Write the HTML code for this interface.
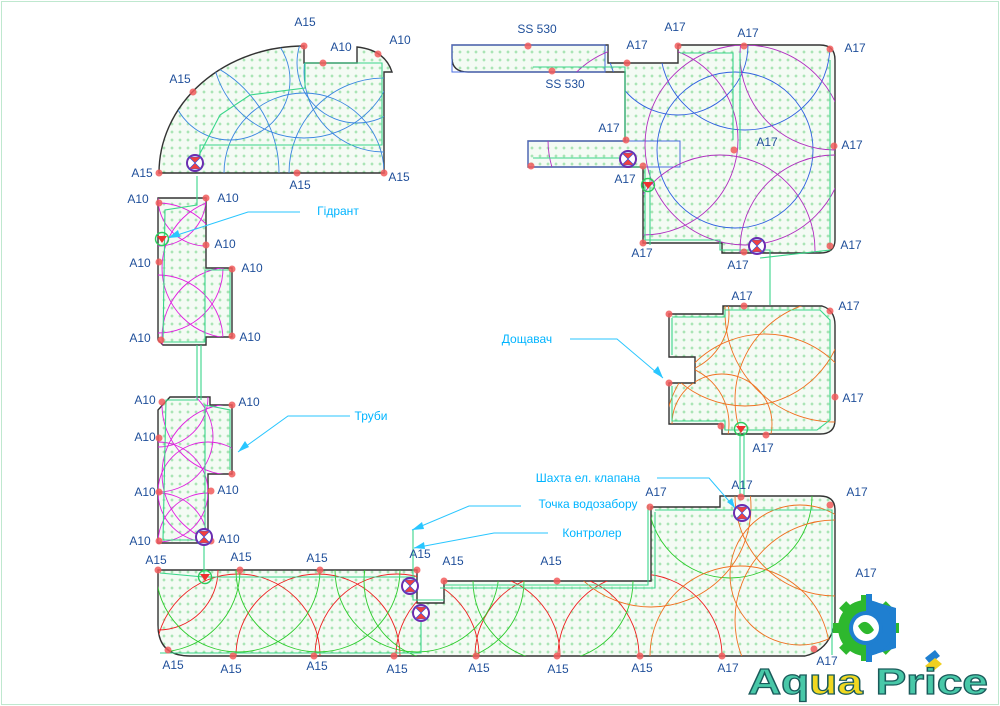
<!DOCTYPE html>
<html><head><meta charset="utf-8"><style>
html,body{margin:0;background:#fff;overflow:hidden;width:1000px;height:706px}
svg{display:block}
text{font-family:"Liberation Sans",sans-serif;font-size:12px;fill:#1f4f9a}
.c{fill:#00b4ff}
</style></head><body>
<svg width="1000" height="706" viewBox="0 0 1000 706" xmlns="http://www.w3.org/2000/svg">
<defs>
<pattern id="p" width="8" height="8" patternUnits="userSpaceOnUse">
<rect width="8" height="8" fill="#f4fbf4"/>
<path d="M4 2.5V5.5M2.5 4H5.5" stroke="#7fd88f" stroke-width="0.8"/>
</pattern>
<clipPath id="r1"><path d="M159 173 L384 173 L384 72 L392 72 Q385 50 357 47 L357 63 L304 63 L304 46 A145 127 0 0 0 159 173 Z"/></clipPath>
<clipPath id="r2"><path d="M158 198 L206 198 L206 268 L232 268 L232 337 L206 337 L206 345 L163 345 L158 340 Z"/></clipPath>
<clipPath id="r3"><path d="M170 397 L210 397 L210 405 L232 405 L232 474 L208 474 L208 543 L158 543 L158 410 Z"/></clipPath>
<clipPath id="r4"><path d="M452 45 L608 45 L608 63 L678 63 L678 45 L820 45 Q835 45 835 60 L835 240 Q835 253 820 253 L722 253 L722 243 L643 243 L643 167 L528 167 L528 141 L625 141 L625 72 L468 72 Q452 72 452 58 Z"/></clipPath>
<clipPath id="r5"><path d="M669 314 L723 314 L723 306 L822 306 Q835 310 835 325 L835 420 Q835 434 820 434 L722 434 L722 424 L669 424 L669 383 L695 383 L695 357 L669 357 Z"/></clipPath>
<clipPath id="r6"><path d="M158 570 L417 570 L417 603 L444 603 L444 581 L651 581 L651 507 L720 507 L720 496 L820 496 Q835 496 835 510 L835 622 Q830 650 805 656 L190 656 Q158 656 158 625 Z"/></clipPath>
</defs>
<rect x="1.5" y="1.5" width="997" height="703" fill="none" stroke="#bfe8cf"/>

<g fill="url(#p)" stroke="#333" stroke-width="1.4">
<path d="M159 173 L384 173 L384 72 L392 72 Q385 50 357 47 L357 63 L304 63 L304 46 A145 127 0 0 0 159 173 Z"/>
<path d="M158 198 L206 198 L206 268 L232 268 L232 337 L206 337 L206 345 L163 345 L158 340 Z"/>
<path d="M170 397 L210 397 L210 405 L232 405 L232 474 L208 474 L208 543 L158 543 L158 410 Z"/>
<path d="M452 45 L608 45 L608 63 L678 63 L678 45 L820 45 Q835 45 835 60 L835 240 Q835 253 820 253 L722 253 L722 243 L643 243 L643 167 L528 167 L528 141 L625 141 L625 72 L468 72 Q452 72 452 58 Z"/>
<path d="M669 314 L723 314 L723 306 L822 306 Q835 310 835 325 L835 420 Q835 434 820 434 L722 434 L722 424 L669 424 L669 383 L695 383 L695 357 L669 357 Z"/>
<path d="M158 570 L417 570 L417 603 L444 603 L444 581 L651 581 L651 507 L720 507 L720 496 L820 496 Q835 496 835 510 L835 622 Q830 650 805 656 L190 656 Q158 656 158 625 Z"/>
</g>
<g fill="none" stroke="#4a6ee0" stroke-width="1">
<rect x="452" y="45" width="153" height="27"/>
<rect x="528" y="141" width="152" height="26"/>
</g>

<g fill="none" stroke-width="0.9">
<g clip-path="url(#r1)" stroke="#3a86e0">
<circle cx="159" cy="173" r="120"/><circle cx="304" cy="46" r="92"/><circle cx="384" cy="173" r="95"/>
<circle cx="304" cy="173" r="80"/><circle cx="357" cy="63" r="60"/><circle cx="384" cy="72" r="80"/><circle cx="230" cy="80" r="60"/>
</g>
<g clip-path="url(#r2)" stroke="#e020e0">
<circle cx="158" cy="198" r="48"/><circle cx="206" cy="198" r="48"/><circle cx="158" cy="268" r="65"/><circle cx="232" cy="268" r="70"/><circle cx="158" cy="340" r="65"/><circle cx="232" cy="337" r="70"/>
</g>
<g clip-path="url(#r3)" stroke="#e020e0">
<circle cx="158" cy="397" r="50"/><circle cx="232" cy="405" r="70"/><circle cx="158" cy="437" r="55"/><circle cx="232" cy="474" r="70"/><circle cx="158" cy="492" r="50"/><circle cx="208" cy="492" r="50"/><circle cx="158" cy="543" r="50"/><circle cx="208" cy="543" r="50"/>
</g>
<g clip-path="url(#r4)">
<circle cx="735" cy="150" r="78" stroke="#3060e0"/>
<circle cx="678" cy="45" r="70" stroke="#3060e0"/><circle cx="745" cy="45" r="85" stroke="#3060e0"/>
<g stroke="#b030c0"><circle cx="835" cy="55" r="95"/><circle cx="835" cy="250" r="95"/><circle cx="720" cy="250" r="95"/><circle cx="643" cy="140" r="95"/><circle cx="745" cy="145" r="100"/></g>
</g>
<g clip-path="url(#r5)" stroke="#f07020">
<circle cx="669" cy="314" r="60"/><circle cx="745" cy="306" r="100"/><circle cx="835" cy="312" r="110"/><circle cx="835" cy="400" r="100"/><circle cx="669" cy="424" r="60"/><circle cx="765" cy="434" r="100"/><circle cx="722" cy="424" r="50"/>
</g>
<g clip-path="url(#r6)">
<g stroke="#ee2020"><circle cx="238" cy="656" r="82"/><circle cx="318" cy="656" r="82"/><circle cx="397" cy="656" r="82"/><circle cx="478" cy="656" r="82"/><circle cx="557" cy="656" r="82"/><circle cx="640" cy="656" r="82"/><circle cx="158" cy="570" r="60"/></g>
<g stroke="#2ccc2c"><circle cx="158" cy="570" r="82"/><circle cx="238" cy="570" r="82"/><circle cx="318" cy="570" r="82"/><circle cx="417" cy="570" r="82"/><circle cx="553" cy="581" r="80"/><circle cx="444" cy="581" r="80"/><circle cx="730" cy="496" r="82"/></g>
<g stroke="#f07020"><circle cx="835" cy="496" r="100"/><circle cx="651" cy="507" r="100"/><circle cx="740" cy="656" r="90"/><circle cx="835" cy="620" r="100"/><circle cx="800" cy="575" r="70"/></g>
</g>
</g>

<g fill="none" stroke="#3ad68a" stroke-width="1.1">
<path d="M200 163 L200 145 L382 145 L382 63 L305 63 L305 88 L250 95 L220 115 L195 163"/>
<path d="M197 176 L197 205 L165 210 L163 342 L205 342 L205 270 L230 270 L230 335"/>
<path d="M197 345 L197 400 M201 345 L201 400"/>
<path d="M198 400 L166 400 L163 540 L205 540 L205 405 L230 410 L230 470"/>
<path d="M204 545 L204 577 L160 573 M204 577 L415 577 M413 530 L413 600 L444 600"/>
<path d="M445 585 L648 585 L648 505 M655 510 L832 510 L832 655 M440 588 L655 588 L655 512"/>
<path d="M421 620 L421 653 L160 653"/>
<path d="M533 67 L625 67 L625 138 M533 158 L628 158 M631 160 L631 167 L645 167 L645 240 L720 240 L720 250 L770 250 L770 305 M650 170 L650 245"/>
<path d="M680 53 L733 53 L733 140 M740 53 L740 150 M760 258 L830 250 L830 60"/>
<path d="M672 317 L725 317 L725 310 L820 310 L830 320 L830 420 L817 430 L725 430 L725 421 L672 421 L672 386 M672 355 L672 318"/>
<path d="M740 432 L740 495 M744 432 L744 495"/>
</g>

<g stroke="#29c6ff" stroke-width="1" fill="none">
<path d="M300 212 L248 212 L168 238"/>
<path d="M350 416 L288 416 L238 452"/>
<path d="M570 339 L617 339 L663 378"/>
<path d="M657 478 L709 478 L735 508"/>
<path d="M521 506 L469 506 L412 530"/>
<path d="M548 533 L494 533 L414 548"/>
</g>
<g fill="#29c6ff">
<path d="M168 238 L178 230 L180 237 Z"/><path d="M238 452 L245 441 L249 447 Z"/><path d="M663 378 L653 372 L658 366 Z"/><path d="M735 508 L727 502 L732 498 Z"/><path d="M412 530 L422 522 L424 529 Z"/><path d="M414 548 L424 542 L425 549 Z"/>
</g>

<g fill="#f25c5c" opacity="0.85">
<circle cx="304" cy="46" r="3.5"/><circle cx="323" cy="63" r="3.5"/><circle cx="378" cy="54" r="3.5"/><circle cx="193" cy="92" r="3.5"/><circle cx="159" cy="173" r="3.5"/><circle cx="297" cy="173" r="3.5"/><circle cx="384" cy="173" r="3.5"/>
<circle cx="159" cy="203" r="3.5"/><circle cx="206" cy="198" r="3.5"/><circle cx="206" cy="245" r="3.5"/><circle cx="159" cy="262" r="3.5"/><circle cx="232" cy="269" r="3.5"/><circle cx="161" cy="340" r="3.5"/><circle cx="232" cy="336" r="3.5"/>
<circle cx="162" cy="402" r="3.5"/><circle cx="232" cy="405" r="3.5"/><circle cx="159" cy="438" r="3.5"/><circle cx="159" cy="492" r="3.5"/><circle cx="211" cy="491" r="3.5"/><circle cx="159" cy="541" r="3.5"/><circle cx="211" cy="541" r="3.5"/><circle cx="232" cy="474" r="3.5"/>
<circle cx="158" cy="570" r="3.5"/><circle cx="240" cy="570" r="3.5"/><circle cx="320" cy="570" r="3.5"/><circle cx="417" cy="570" r="3.5"/><circle cx="444" cy="581" r="3.5"/><circle cx="557" cy="581" r="3.5"/><circle cx="650" cy="507" r="3.5"/><circle cx="741" cy="497" r="3.5"/><circle cx="830" cy="505" r="3.5"/>
<circle cx="168" cy="650" r="3.5"/><circle cx="233" cy="656" r="3.5"/><circle cx="314" cy="656" r="3.5"/><circle cx="394" cy="656" r="3.5"/><circle cx="476" cy="656" r="3.5"/><circle cx="557" cy="656" r="3.5"/><circle cx="640" cy="656" r="3.5"/><circle cx="722" cy="656" r="3.5"/><circle cx="814" cy="649" r="3.5"/>
<circle cx="528" cy="46" r="3.5"/><circle cx="552" cy="71" r="3.5"/><circle cx="627" cy="63" r="3.5"/><circle cx="678" cy="46" r="3.5"/><circle cx="744" cy="46" r="3.5"/><circle cx="830" cy="49" r="3.5"/><circle cx="734" cy="150" r="3.5"/><circle cx="834" cy="146" r="3.5"/><circle cx="626" cy="140" r="3.5"/><circle cx="531" cy="166" r="3.5"/><circle cx="643" cy="166" r="3.5"/><circle cx="643" cy="243" r="3.5"/><circle cx="744" cy="252" r="3.5"/><circle cx="830" cy="246" r="3.5"/>
<circle cx="669" cy="314" r="3.5"/><circle cx="744" cy="306" r="3.5"/><circle cx="830" cy="311" r="3.5"/><circle cx="835" cy="397" r="3.5"/><circle cx="669" cy="383" r="3.5"/><circle cx="721" cy="426" r="3.5"/><circle cx="766" cy="435" r="3.5"/>
</g>

<g stroke="#6a2db0" stroke-width="2" fill="#fff">
<circle cx="195" cy="163" r="8"/><circle cx="628" cy="159" r="8"/><circle cx="757" cy="246" r="8"/><circle cx="204" cy="537" r="8"/><circle cx="410" cy="586" r="8"/><circle cx="421" cy="613" r="8"/><circle cx="742" cy="513" r="8"/>
</g>
<g fill="#f04040" stroke="#3050e0" stroke-width="0.6">
<path d="M189 157 L201 157 L189 169 L201 169 Z"/><path d="M622 153 L634 153 L622 165 L634 165 Z"/><path d="M751 240 L763 240 L751 252 L763 252 Z"/><path d="M198 531 L210 531 L198 543 L210 543 Z"/><path d="M404 580 L416 580 L404 592 L416 592 Z"/><path d="M415 607 L427 607 L415 619 L427 619 Z"/><path d="M736 507 L748 507 L736 519 L748 519 Z"/>
</g>
<g stroke="#2ccc5c" stroke-width="1.4" fill="none">
<circle cx="162" cy="239" r="6.5"/><circle cx="648" cy="185" r="6.5"/><circle cx="741" cy="429" r="6.5"/><circle cx="205" cy="577" r="6.5"/>
</g>
<g fill="#ee3030">
<path d="M157 236 L167 236 L162 243 Z"/><path d="M643 182 L653 182 L648 189 Z"/><path d="M736 426 L746 426 L741 433 Z"/><path d="M200 574 L210 574 L205 581 Z"/>
</g>

<g text-anchor="middle">
<text x="305" y="26">A15</text><text x="341" y="51">A10</text><text x="400" y="44">A10</text><text x="180" y="83">A15</text><text x="142" y="177">A15</text><text x="300" y="189">A15</text><text x="399" y="181">A15</text>
<text x="138" y="203">A10</text><text x="228" y="202">A10</text><text x="225" y="248">A10</text><text x="140" y="267">A10</text><text x="252" y="272">A10</text><text x="140" y="342">A10</text><text x="250" y="341">A10</text>
<text x="145" y="404">A10</text><text x="249" y="406">A10</text><text x="145" y="441">A10</text><text x="145" y="496">A10</text><text x="228" y="494">A10</text><text x="140" y="545">A10</text><text x="229" y="543">A10</text>
<text x="156" y="564">A15</text><text x="241" y="561">A15</text><text x="317" y="562">A15</text><text x="420" y="558">A15</text><text x="453" y="565">A15</text><text x="551" y="565">A15</text>
<text x="173" y="669">A15</text><text x="231" y="673">A15</text><text x="317" y="670">A15</text><text x="397" y="673">A15</text><text x="479" y="672">A15</text><text x="558" y="673">A15</text><text x="642" y="672">A15</text><text x="728" y="672">A17</text><text x="827" y="665">A17</text>
<text x="656" y="496">A17</text><text x="857" y="496">A17</text><text x="866" y="577">A17</text><text x="742" y="489">A17</text>
<text x="742" y="300">A17</text><text x="849" y="310">A17</text><text x="853" y="402">A17</text><text x="763" y="452">A17</text>
<text x="537" y="33">SS 530</text><text x="565" y="88">SS 530</text><text x="637" y="49">A17</text><text x="675" y="31">A17</text><text x="748" y="37">A17</text><text x="855" y="52">A17</text><text x="767" y="146">A17</text><text x="852" y="149">A17</text><text x="609" y="132">A17</text><text x="625" y="183">A17</text><text x="642" y="257">A17</text><text x="738" y="269">A17</text><text x="851" y="249">A17</text>
<text class="c" x="338" y="215">Гідрант</text><text class="c" x="371" y="420">Труби</text><text class="c" x="527" y="343">Дощавач</text><text class="c" x="588" y="482">Шахта ел. клапана</text><text class="c" x="588" y="508">Точка водозабору</text><text class="c" x="592" y="537">Контролер</text>
</g>

<!-- logo -->
<g transform="translate(866,628)">
<g fill="#2eb82e">
<rect x="-5" y="-33" width="10" height="66" transform="rotate(0)"/>
<rect x="-5" y="-33" width="10" height="66" transform="rotate(45)"/>
<rect x="-5" y="-33" width="10" height="66" transform="rotate(90)"/>
<rect x="-5" y="-33" width="10" height="66" transform="rotate(135)"/>
</g>
<path d="M0 -34 L6 -34 L6 34 L0 34Z M3 -28 L30 -20 L30 20 L3 28Z" fill="#1f7fd0"/>
<path d="M0 -28 A28 28 0 0 1 0 28 Z" fill="#1f7fd0"/>
<path d="M0 -28 A28 28 0 0 0 0 28 Z" fill="#2eb82e"/>
<circle r="17" fill="#1f7fd0"/><circle r="13" fill="#fff"/>
<path d="M-8 -2 Q0 -12 8 2 Q0 12 -8 -2Z" fill="#2eb82e"/>
</g>
<path d="M925 658 L935 650 L940 656 L930 664Z" fill="#1f7fd0"/><path d="M925 666 L935 658 L942 664 L932 672Z" fill="#f0d020"/>
<text x="748" y="694" textLength="240" lengthAdjust="spacingAndGlyphs" style="font-size:36px;font-weight:bold;fill:#48c8a8;stroke:#1a5a5a;stroke-width:1.2">Aq<tspan style="fill:#f0d820">ua</tspan> Price</text>
</svg>
</body></html>
